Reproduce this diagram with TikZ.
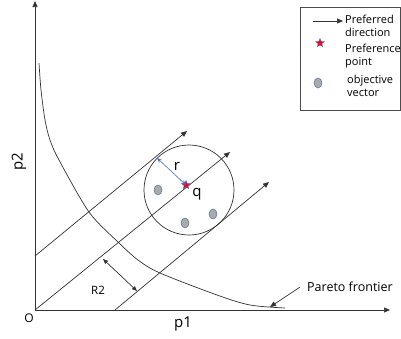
\documentclass[tikz,border=0pt]{standalone}
\usepackage{fontspec}
\setmainfont{Open Sans}
\usetikzlibrary{arrows.meta,shapes.geometric}
\definecolor{dotfill}{RGB}{170,170,170}
\definecolor{dotedge}{RGB}{90,120,170}
\definecolor{rblue}{RGB}{70,110,200}
\tikzset{
  ln/.style={line width=0.7pt, draw=black!80},
  tip/.style={-{Triangle[length=6pt,width=5pt]}},
  dot/.style={ellipse, minimum width=8pt, minimum height=10pt, inner sep=0pt, fill=dotfill, draw=dotedge, line width=0.6pt},
  pstar/.style={star, star points=5, star point ratio=2.3, minimum size=9pt, inner sep=0pt, fill=red, draw=rblue, line width=0.4pt},
  lbl/.style={inner sep=0pt, font=\fontsize{11}{12}\selectfont},
  leg/.style={inner sep=0pt, align=left, anchor=west, font=\fontsize{11}{13}\selectfont},
}
\begin{document}
\begin{tikzpicture}[x=1pt,y=-1pt]
\useasboundingbox (0,0) rectangle (401,338);
% axes
\coordinate (O) at (35,310);
\coordinate (xe) at (390,310);
\coordinate (ye) at (35,1);
\draw[ln,tip] (O) -- (xe);
\draw[ln,tip] (O) -- (ye);
\node[lbl, font=\fontsize{12}{13}\selectfont] (olab) at (29,318) {O};
\node[lbl, font=\fontsize{15}{16}\selectfont] (p1) at (183,324) {p1};
\node[lbl, font=\fontsize{15}{16}\selectfont, rotate=90] (p2) at (19,162) {p2};
% pareto curve
\draw[ln] plot[smooth] coordinates {(39,63) (41,90) (45,120) (50,140) (59,160) (89,212) (118,242) (138,260) (160,273) (217,295) (250,305) (285,308)};
% direction lines
\coordinate (u1) at (35,256); \coordinate (u2) at (187,131);
\coordinate (m2) at (230,152);
\coordinate (l1) at (115,310); \coordinate (l2) at (269,182);
\draw[ln,tip] (u1) -- (u2);
\draw[ln,tip] (O) -- (m2);
\draw[ln,tip] (l1) -- (l2);
% circle
\node[draw=black!80, line width=0.7pt, circle, minimum size=90pt, inner sep=0pt] (circ) at (189,190) {};
% objective vectors
\node[dot] (d1) at (158,190) {};
\node[dot] (d2) at (185,223) {};
\node[dot] (d3) at (213,214) {};
% r arrow
\coordinate (rt) at (157,158);
\node[pstar] (q) at (186,185) {};
\draw[rblue, line width=0.6pt, {Stealth[length=5pt,width=4pt]}-{Stealth[length=5pt,width=4pt]}] (q.center) -- (rt);
\node[lbl, font=\fontsize{15}{16}\selectfont] (rlab) at (177,166) {r};
\node[lbl, font=\fontsize{15}{16}\selectfont] (qlab) at (197,194) {q};
% R2
\coordinate (ra) at (103,259); \coordinate (rb) at (137,291);
\draw[ln, {Triangle[length=5pt,width=4pt]}-{Triangle[length=5pt,width=4pt]}] (ra) -- (rb);
\node[lbl, font=\fontsize{11.5}{12}\selectfont] (r2lab) at (98,290) {R2};
% pareto label
\node[lbl, anchor=west, font=\fontsize{12.5}{13}\selectfont] (plab) at (307,287) {Pareto frontier};
\coordinate (pa) at (270,307);
\draw[ln,tip] (plab.west) ++(-7,0) coordinate (pst) (pst) -- (pa);
% legend
\node[draw=black!70, line width=0.6pt, minimum width=100pt, minimum height=103pt, inner sep=0pt, anchor=north west] (legend) at (300,7) {};
\coordinate (la1) at (313,21); \coordinate (la2) at (343,21);
\draw[ln,tip] (la1) -- (la2);
\node[leg] (lt1) at (345,26) {Preferred\\direction};
\node[pstar] (ls) at (320,43) {};
\node[leg] (lt2) at (345,56) {Preference\\point};
\node[dot] (ld) at (318,83) {};
\node[leg] (lt3) at (347,86) {objective\\vector};
\end{tikzpicture}
\end{document}
